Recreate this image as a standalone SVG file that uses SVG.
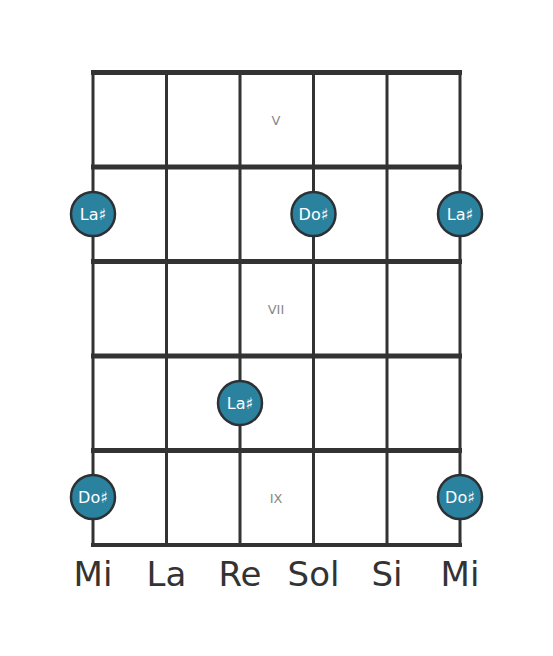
<svg xmlns="http://www.w3.org/2000/svg" width="553" height="656" viewBox="0 0 553 656">
<style>
.s{stroke:#333;stroke-width:3;fill:none}
.f{stroke:#333;stroke-width:5;fill:none}
.n circle{fill:#2b829f;stroke:#2b3134;stroke-width:2.5}
.n text{fill:#fff;font-family:"DejaVu Sans",sans-serif;font-size:16px;text-anchor:middle;dominant-baseline:central}
.fr{fill:#888;font-family:"DejaVu Sans",sans-serif;font-size:13px;text-anchor:middle;dominant-baseline:central}
.lb{fill:#333;font-family:"DejaVu Sans",sans-serif;font-size:34px;text-anchor:middle}
</style>
<rect width="553" height="656" fill="#fff"/>
<g id="connectors">
<line class="s" x1="93" y1="72.5" x2="93" y2="545"/>
<line class="s" x1="166.5" y1="72.5" x2="166.5" y2="545"/>
<line class="s" x1="240" y1="72.5" x2="240" y2="545"/>
<line class="s" x1="313.5" y1="72.5" x2="313.5" y2="545"/>
<line class="s" x1="387" y1="72.5" x2="387" y2="545"/>
<line class="s" x1="460" y1="72.5" x2="460" y2="545"/>
<line class="f" x1="91" y1="72.5" x2="462" y2="72.5"/>
<line class="f" x1="91" y1="167" x2="462" y2="167"/>
<line class="f" x1="91" y1="261.5" x2="462" y2="261.5"/>
<line class="f" x1="91" y1="356" x2="462" y2="356"/>
<line class="f" x1="91" y1="450.5" x2="462" y2="450.5"/>
<line class="f" style="stroke-width:4" x1="91" y1="545" x2="462" y2="545"/>
</g>
<text class="fr" x="276" y="120">V</text>
<text class="fr" x="276" y="309">VII</text>
<text class="fr" x="276" y="498">IX</text>
<g id="n1" class="n"><circle cx="93" cy="214" r="22"/><text x="93" y="214">La♯</text></g>
<g id="n2" class="n"><circle cx="313.5" cy="214" r="22"/><text x="313.5" y="214">Do♯</text></g>
<g id="n3" class="n"><circle cx="460" cy="214" r="22"/><text x="460" y="214">La♯</text></g>
<g id="n4" class="n"><circle cx="240" cy="403" r="22"/><text x="240" y="403">La♯</text></g>
<g id="n5" class="n"><circle cx="93" cy="497" r="22"/><text x="93" y="497">Do♯</text></g>
<g id="n6" class="n"><circle cx="460" cy="497" r="22"/><text x="460" y="497">Do♯</text></g>
<g id="labels">
<text class="lb" x="93" y="586">Mi</text>
<text class="lb" x="166.5" y="586">La</text>
<text class="lb" x="240" y="586">Re</text>
<text class="lb" x="313.5" y="586">Sol</text>
<text class="lb" x="387" y="586">Si</text>
<text class="lb" x="460" y="586">Mi</text>
</g>
</svg>
